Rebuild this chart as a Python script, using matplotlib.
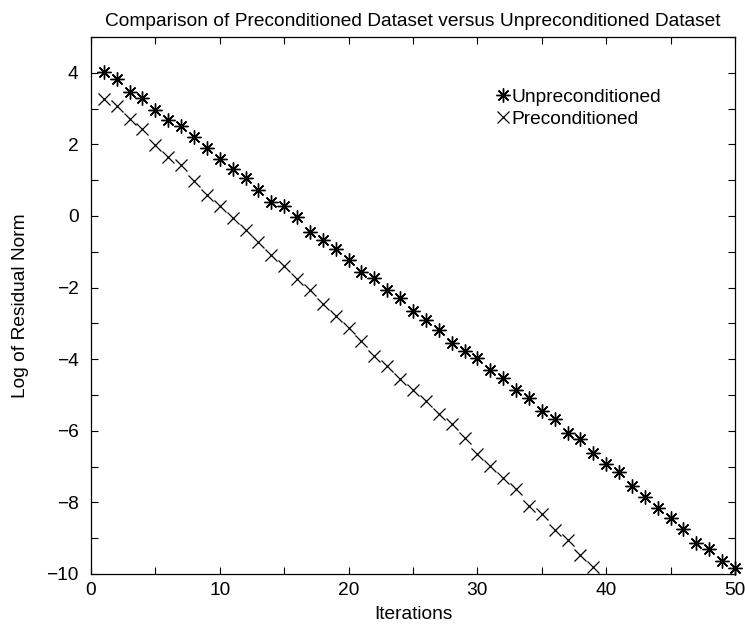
import matplotlib
matplotlib.use('Agg')
import matplotlib.pyplot as plt
import numpy as np

plt.rcParams['font.family'] = ['Liberation Sans', 'DejaVu Sans']

# iteration numbers
iterations = np.arange(1, 51)

# log of residual norm
unprecond = [4.03, 3.82, 3.46, 3.29, 2.95, 2.67, 2.51, 2.21, 1.90, 1.58,
             1.30, 1.06, 0.73, 0.39, 0.29, -0.04, -0.45, -0.68, -0.92, -1.22,
             -1.56, -1.74, -2.06, -2.28, -2.65, -2.90, -3.18, -3.54, -3.77, -3.96,
             -4.30, -4.52, -4.86, -5.09, -5.45, -5.68, -6.05, -6.24, -6.63, -6.93,
             -7.15, -7.54, -7.85, -8.16, -8.43, -8.73, -9.13, -9.31, -9.65, -9.84]

precond_iters = np.arange(1, 40)
precond = [3.26, 3.08, 2.71, 2.44, 1.99, 1.66, 1.43, 0.98, 0.59, 0.29,
           -0.06, -0.38, -0.74, -1.08, -1.40, -1.77, -2.08, -2.45, -2.78, -3.13,
           -3.50, -3.92, -4.19, -4.56, -4.86, -5.16, -5.52, -5.82, -6.19, -6.64,
           -6.98, -7.31, -7.63, -8.10, -8.33, -8.77, -9.05, -9.46, -9.80]

fs = 13.8

fig = plt.figure(figsize=(7.45, 6.25), dpi=100)
ax = fig.add_axes([0.1221, 0.0816, 0.8645, 0.8592])

ax.plot(iterations, unprecond, linestyle='none', marker=(8, 2, 0), markersize=10,
        color='black', markeredgewidth=1.0, label='Unpreconditioned', clip_on=False)
ax.plot(precond_iters, precond, linestyle='none', marker='x', markersize=8,
        color='black', markeredgewidth=0.9, label='Preconditioned', clip_on=False)

ax.set_xlim(0, 50)
ax.set_ylim(-10, 5)
ax.set_xticks(np.arange(0, 51, 10))
ax.set_xticks(np.arange(0, 51, 5), minor=True)
ax.set_yticks(np.arange(-10, 5, 2))
ax.set_yticks(np.arange(-10, 6, 1), minor=True)
ax.tick_params(which='both', direction='in', top=True, right=True, labelsize=fs)
ax.tick_params(which='major', length=5, width=0.8)
ax.tick_params(which='minor', length=5, width=0.8)
ax.tick_params(axis='y', pad=9)
ax.tick_params(axis='x', pad=6)
for s in ax.spines.values():
    s.set_linewidth(0.9)

ax.set_xlabel('Iterations', fontsize=fs, labelpad=5)
ax.set_ylabel('Log of Residual Norm', fontsize=fs, labelpad=12)
ax.set_title('Comparison of Preconditioned Dataset versus Unpreconditioned Dataset',
             fontsize=fs, pad=8)

ax.legend(loc='upper left', bbox_to_anchor=(0.61, 0.922), frameon=False,
          fontsize=fs, handletextpad=-0.05, handlelength=1.0, labelspacing=0.25,
          borderpad=0)

fig.savefig('out.png', dpi=100)
